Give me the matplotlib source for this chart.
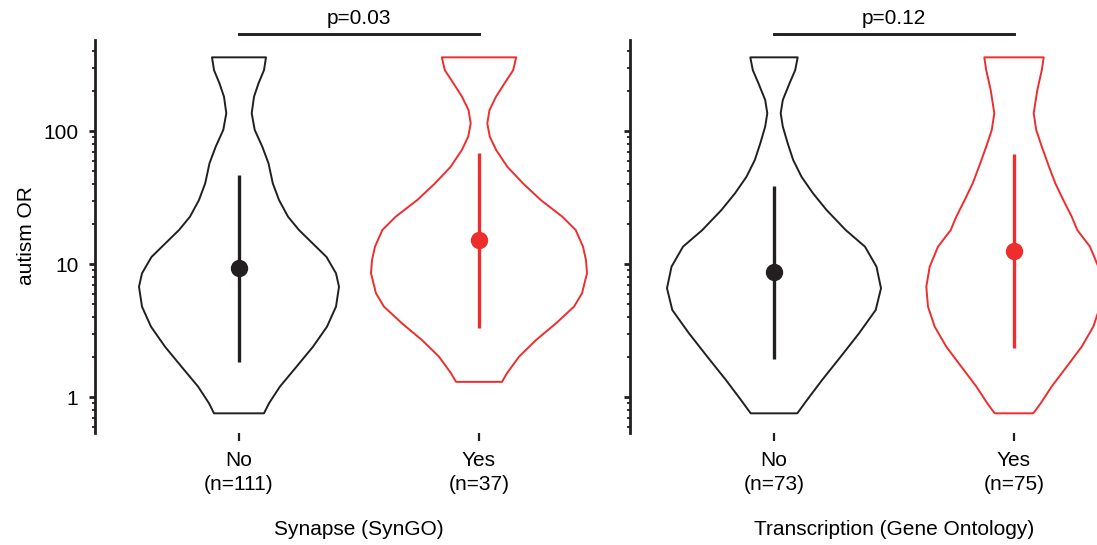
import numpy as np
import matplotlib
matplotlib.use("Agg")
import matplotlib.pyplot as plt
from matplotlib.ticker import FixedLocator, LogLocator, NullFormatter
from matplotlib.transforms import blended_transform_factory

plt.rcParams['font.family'] = ['Liberation Sans', 'DejaVu Sans']
plt.rcParams['font.size'] = 15

BLACK = '#231F20'
RED = '#EE2D2D'

categories = ['No', 'Yes']
panel_titles = ['Synapse (SynGO)', 'Transcription (Gene Ontology)']
group_sizes = [[111, 37], [73, 75]]
p_labels = ['p=0.03', 'p=0.12']

# Density profiles: OR levels (top to bottom) and relative density at each level
syn_no_or = [358, 287, 228, 181, 136, 102, 76.2, 57.2, 40.4, 30.3, 22.7, 18.0,
             15.2, 11.3, 8.51, 6.75, 4.78, 3.38, 2.39, 1.69, 1.20, 0.897, 0.754]
syn_no_density = [27, 25, 19.5, 15, 12.7, 15.7, 23.3, 29.5, 33.8, 40, 49, 60,
                  70, 87.5, 97, 100, 97, 88, 74, 57.5, 41, 30, 25]

syn_yes_or = [358, 287, 228, 181, 144, 114, 90.6, 71.9, 53.9, 40.4, 30.3, 22.7,
              18.0, 13.5, 10.7, 8.51, 6.02, 4.78, 3.58, 2.68, 2.01, 1.51, 1.30]
syn_yes_density = [37.2, 34.2, 25.5, 17, 10.5, 8.3, 10.8, 17.2, 28.3, 44, 61.7, 83.3,
                   96.7, 104, 107, 108, 103, 95, 77, 57, 40, 28, 23]

go_no_or = [358, 287, 228, 171, 136, 108, 80.8, 60.5, 45.3, 34.0, 25.5, 18.0,
            13.5, 9.54, 6.57, 4.51, 3.01, 2.01, 1.34, 0.949, 0.754]
go_no_density = [23.7, 21.2, 15.5, 8.8, 6.7, 8.8, 13.7, 19.2, 27.5, 39, 52.5, 71.7,
                 91, 102.5, 107, 101.7, 85, 66.7, 48, 33, 23.3]

go_yes_or = [358, 287, 203, 136, 102, 76.2, 53.9, 40.4, 30.3, 22.7, 18.0, 13.5,
             9.54, 6.75, 4.78, 3.38, 2.39, 1.69, 1.20, 0.897, 0.754]
go_yes_density = [29.7, 27.8, 23.3, 19.7, 22.2, 27.8, 35, 41.3, 49.3, 57.7, 63.3, 76,
                  84.3, 87.7, 86, 79.3, 67.7, 52.7, 37.7, 26.7, 19.3]

# Median and interval (whisker) of autism OR per group
medians = [[9.3, 15.1], [8.75, 12.5]]
lower = [[1.84, 3.28], [1.92, 2.32]]
upper = [[46.7, 68.7], [38.8, 66.8]]

profiles = [[(syn_no_or, syn_no_density), (syn_yes_or, syn_yes_density)],
            [(go_no_or, go_no_density), (go_yes_or, go_yes_density)]]

colors = [BLACK, RED]
DENSITY_TO_X = 1.0 / 240.0   # density units -> half-width in category units

W, H = 1097, 545
fig = plt.figure(figsize=(W / 100, H / 100), dpi=100)

ax_bottom = (H - 432.5) / H
ax_height = 393 / H
axes = [
    fig.add_axes([95 / W, ax_bottom, 528 / W, ax_height]),
    fig.add_axes([630 / W, ax_bottom, 528 / W, ax_height]),
]

for p, ax in enumerate(axes):
    ax.set_yscale('log')
    vpstats = []
    widths = []
    for g in range(2):
        levels, dens = profiles[p][g]
        levels = np.asarray(levels, float)[::-1]
        dens = np.asarray(dens, float)[::-1]
        vpstats.append(dict(coords=levels, vals=dens,
                            mean=medians[p][g], median=medians[p][g],
                            min=levels.min(), max=levels.max()))
        widths.append(2 * dens.max() * DENSITY_TO_X)
    parts = ax.violin(vpstats, positions=[0, 1], widths=widths,
                      showmeans=False, showextrema=False, showmedians=False)
    for g, body in enumerate(parts['bodies']):
        body.set_alpha(1)
        body.set_facecolor('none')
        body.set_edgecolor(colors[g])
        body.set_linewidth(1.4)
        body.set_joinstyle('round')

    for g in range(2):
        ax.vlines(g, lower[p][g], upper[p][g], color=colors[g], lw=2.4, zorder=3)
        ax.plot(g, medians[p][g], 'o', color=colors[g], ms=11.5, zorder=4)

    ax.set_xlim(-0.6, 1.6)
    ax.set_ylim(0.541, 487.5)

    for side in ('top', 'right', 'bottom'):
        ax.spines[side].set_visible(False)
    ax.spines['left'].set_linewidth(2)
    ax.spines['left'].set_color(BLACK)

    ax.yaxis.set_major_locator(FixedLocator([1, 10, 100]))
    ax.yaxis.set_minor_locator(LogLocator(base=10, subs=np.arange(2, 10), numticks=20))
    ax.yaxis.set_minor_formatter(NullFormatter())
    if p == 0:
        ax.set_yticklabels(['1', '10', '100'])
        ax.set_ylabel('autism OR', labelpad=5)
    else:
        ax.set_yticklabels([])
    ax.tick_params(axis='y', which='major', length=4, width=2, color=BLACK, pad=8)
    ax.tick_params(axis='y', which='minor', length=2.2, width=1.3, color=BLACK)

    ax.set_xticks([0, 1])
    ax.set_xticklabels([f'{c}\n(n={n})' for c, n in zip(categories, group_sizes[p])],
                       linespacing=1.35)
    ax.tick_params(axis='x', length=6, width=1.6, color=BLACK, pad=7)
    ax.set_xlabel(panel_titles[p], labelpad=19)

    # significance bracket above the pair
    tr = blended_transform_factory(ax.transData, ax.transAxes)
    ax.plot([0, 1], [1.0137, 1.0137], color=BLACK, lw=2.1, transform=tr, clip_on=False)
    ax.text(0.5, 1.039, p_labels[p], transform=tr, ha='center', va='baseline')

fig.savefig('out.png', dpi=100)
